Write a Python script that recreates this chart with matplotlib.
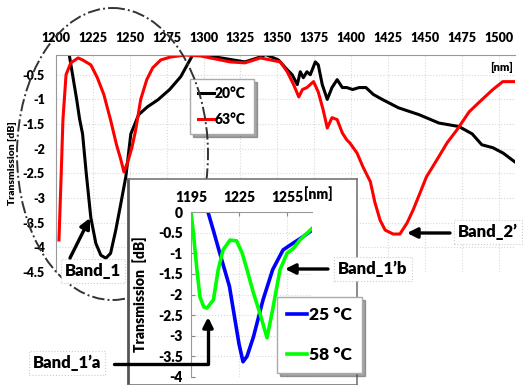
import matplotlib
matplotlib.use('Agg')
import matplotlib.pyplot as plt
from matplotlib.patches import Ellipse

plt.rcParams['font.family'] = ['Lato', 'DejaVu Sans']
plt.rcParams['font.weight'] = 'heavy'
plt.rcParams['axes.unicode_minus'] = False

# main chart data (wavelength nm, transmission dB)
wl_20 = [1209, 1211.5, 1214, 1216, 1218, 1220.5, 1223.6, 1227, 1230.4, 1233.8, 1237, 1240.5,
         1244, 1247.3, 1250.7, 1256, 1262, 1269, 1277, 1284.5, 1292.6, 1300, 1310, 1320,
         1328, 1338.5, 1342, 1350.7, 1356.7, 1360, 1363.5, 1365.5, 1367.6, 1370, 1372.3,
         1375.7, 1377.7, 1380.4, 1383.8, 1387, 1390.5, 1394, 1397, 1401, 1405.4, 1410,
         1415, 1421, 1432, 1446, 1459.5, 1473, 1482, 1488.5, 1496, 1503, 1511]
db_20 = [-0.1, -0.55, -1.0, -1.4, -1.7, -2.5, -3.4, -3.92, -4.16, -4.22, -4.12, -3.65,
         -3.1, -2.57, -1.7, -1.31, -1.15, -1.01, -0.8, -0.54, -0.1, -0.1, -0.15, -0.2,
         -0.24, -0.14, -0.09, -0.2, -0.4, -0.5, -0.7, -0.44, -0.56, -0.44, -0.5,
         -0.24, -0.3, -0.7, -1.0, -0.76, -0.6, -0.76, -0.76, -0.8, -0.76, -0.76,
         -0.9, -1.0, -1.17, -1.31, -1.48, -1.55, -1.7, -1.92, -1.98, -2.09, -2.27]

wl_63 = [1202, 1203.4, 1204.7, 1206.8, 1210, 1215, 1218, 1223.6, 1228, 1232.4, 1237, 1241,
         1244, 1246, 1248.6, 1251.4, 1254, 1257.4, 1261.5, 1265.5, 1271, 1277.7, 1288, 1298,
         1308, 1318, 1328, 1338.5, 1352, 1356.7, 1361, 1364.5, 1367, 1370, 1374.5, 1377.7,
         1381, 1383.8, 1387, 1390.5, 1394, 1397, 1399, 1404, 1408, 1413, 1416, 1419.6,
         1423, 1428.4, 1433, 1437.8, 1442, 1446.6, 1451, 1458, 1465, 1471.6, 1480, 1487,
         1496, 1502.7, 1510.8]
db_63 = [-3.85, -2.63, -1.41, -0.5, -0.26, -0.16, -0.2, -0.3, -0.56, -0.9, -1.42, -1.92,
         -2.23, -2.47, -2.27, -1.98, -1.62, -1.0, -0.6, -0.36, -0.2, -0.14, -0.1, -0.12,
         -0.18, -0.24, -0.26, -0.16, -0.24, -0.44, -0.7, -0.95, -0.8, -0.76, -0.64, -0.85,
         -1.21, -1.58, -1.37, -1.41, -1.68, -1.82, -1.88, -2.09, -2.37, -2.67, -3.08, -3.45,
         -3.65, -3.73, -3.73, -3.51, -3.24, -2.9, -2.57, -2.23, -1.88, -1.62, -1.25, -1.05,
         -0.8, -0.64, -0.64]

main_xticks = [1200, 1225, 1250, 1275, 1300, 1325, 1350, 1375, 1400, 1425, 1450, 1475, 1500]
main_yticks = [-0.5, -1, -1.5, -2, -2.5, -3, -3.5, -4, -4.5]
main_ylabels = ['-0.5', '-1', '-1.5', '-2', '-2.5', '-3', '-3.5', '-4', '-4.5']

# inset data
wl_25 = [1205.6, 1209, 1213, 1216, 1219, 1222, 1225, 1227.5, 1230, 1234, 1240, 1246,
         1252.5, 1259, 1265, 1270.6]
db_25 = [0, -0.45, -1.0, -1.4, -1.8, -2.5, -3.2, -3.63, -3.5, -3.03, -2.13, -1.4,
         -0.92, -0.75, -0.6, -0.44]
wl_58 = [1195, 1196.3, 1198.7, 1200.6, 1203, 1205, 1209, 1212, 1215, 1219.4, 1223.5,
         1227, 1230, 1234, 1238, 1242.5, 1246, 1250.6, 1255, 1259, 1263, 1270.6]
db_58 = [0, -0.44, -1.4, -2.06, -2.3, -2.33, -2.13, -1.4, -0.92, -0.68, -0.7,
         -1.0, -1.4, -1.96, -2.45, -3.05, -2.37, -1.4, -1.0, -0.88, -0.68, -0.4]

inset_xticks = [1195, 1225, 1255]
inset_yticks = [0, -0.5, -1, -1.5, -2, -2.5, -3, -3.5, -4]
inset_ylabels = ['0', '-0.5', '-1', '-1.5', '-2', '-2.5', '-3', '-3.5', '-4']

W, H = 523, 385


def box(x0, y0, x1, y1):
    # pixel box (top-left origin) -> figure fraction rect
    return [x0 / W, 1 - y1 / H, (x1 - x0) / W, (y1 - y0) / H]


fig = plt.figure(figsize=(W / 100, H / 100), dpi=100)

# ---- main chart
ax = fig.add_axes(box(56, 55, 515, 272), zorder=0)
ax.plot(wl_20, db_20, color='black', lw=2.2, label='20°C')
ax.plot(wl_63, db_63, color='#ff0000', lw=2.2, label='63°C')
ax.set_xlim(1200, 1511)
ax.set_ylim(-4.5, -0.1)
ax.xaxis.tick_top()
ax.set_xticks(main_xticks)
ax.set_yticks(main_yticks)
ax.set_yticklabels(main_ylabels)
ax.tick_params(length=0, labelsize=9, pad=8)
ax.tick_params(axis='y', pad=8)
for s in ['bottom', 'right']:
    ax.spines[s].set_visible(False)
for s in ['top', 'left']:
    ax.spines[s].set_color('#999999')
ax.grid(True, color='#d8d8d8', ls=':', lw=0.8)
ax.text(1502, -0.36, '[nm]', fontsize=8, ha='center', va='center')
leg = ax.legend(loc='upper left', bbox_to_anchor=(190 / W, 1 - 79 / H),
                bbox_transform=fig.transFigure, fontsize=10, handlelength=1.1,
                handletextpad=0.1, labelspacing=0.9, borderpad=0.6, borderaxespad=0,
                fancybox=False, shadow=True, edgecolor='#aaaaaa')
fig.text(13 / W, 1 - 163 / H, 'Transmission [dB]', rotation=90, fontsize=7.5,
         ha='center', va='center')

# dash-dot ellipse around Band_1
ov1 = fig.add_axes([0, 0, 1, 1], zorder=1)
ov1.set_xlim(0, W)
ov1.set_ylim(H, 0)
ov1.axis('off')
ov1.add_patch(Ellipse((112.5, 154), 191, 292, fill=False, ls='-.', lw=1.4,
                      edgecolor='#333333'))

# ---- inset frame and inset
frame = fig.add_axes(box(128, 179, 357, 385), zorder=2)
frame.set_xticks([])
frame.set_yticks([])
for s in frame.spines.values():
    s.set_color('#777777')
    s.set_linewidth(1.2)
frame.spines['left'].set_color('#555555')
frame.spines['left'].set_linewidth(2)

ax2 = fig.add_axes(box(191, 212, 312, 377), zorder=3)
ax2.plot(wl_25, db_25, color='#0000ff', lw=2.6, label='25 °C')
ax2.plot(wl_58, db_58, color='#00ff00', lw=2.6, label='58 °C')
ax2.set_xlim(1195, 1270.6)
ax2.set_ylim(-4, 0)
ax2.xaxis.tick_top()
ax2.set_xticks(inset_xticks)
ax2.set_yticks(inset_yticks)
ax2.set_yticklabels(inset_ylabels)
ax2.tick_params(direction='in', length=3, color='#888888', labelsize=10, pad=6)
for s in ['bottom', 'right']:
    ax2.spines[s].set_visible(False)
for s in ['top', 'left']:
    ax2.spines[s].set_color('#999999')
ax2.grid(True, color='#d8d8d8', ls=':', lw=0.8)
ax2.legend(loc='upper left', bbox_to_anchor=(277 / W, 1 - 297 / H),
           bbox_transform=fig.transFigure, fontsize=12.5, handlelength=1.1,
           handletextpad=0.15, labelspacing=1.35, borderpad=0.6, borderaxespad=0,
           fancybox=False, shadow=True, edgecolor='#aaaaaa')
fig.text(318 / W, 1 - 194 / H, '[nm]', fontsize=10, ha='center', va='center', zorder=4)
fig.text(140 / W, 1 - 294 / H, 'Transmission  [dB]', rotation=90, fontsize=10,
         ha='center', va='center', zorder=4)

# ---- annotations
ov2 = fig.add_axes([0, 0, 1, 1], zorder=5)
ov2.set_xlim(0, W)
ov2.set_ylim(H, 0)
ov2.axis('off')
bx = dict(boxstyle='square,pad=0.25', fc='white', ec='#cccccc', ls=':', lw=0.8)
ap = dict(arrowstyle='-|>', color='black', lw=2.4, mutation_scale=15, shrinkA=0, shrinkB=0)
ov2.text(93, 271, 'Band_1', fontsize=12, ha='center', va='center', bbox=bx)
ov2.annotate('', xy=(90, 218), xytext=(70, 258), arrowprops=ap)
ov2.text(488, 232, 'Band_2\u2019', fontsize=12, ha='center', va='center', bbox=bx)
ov2.annotate('', xy=(407, 233), xytext=(450, 233), arrowprops=ap)
ov2.text(373, 269, 'Band_1\u2019b', fontsize=12, ha='center', va='center', bbox=bx)
ov2.annotate('', xy=(285, 269), xytext=(328, 269), arrowprops=ap)
ov2.text(67, 363, 'Band_1\u2019a', fontsize=12, ha='center', va='center', bbox=bx)
ov2.annotate('', xy=(208, 317), xytext=(114, 364),
             arrowprops=dict(ap, connectionstyle='angle,angleA=0,angleB=90,rad=0'))

fig.savefig('out.png', dpi=100)
